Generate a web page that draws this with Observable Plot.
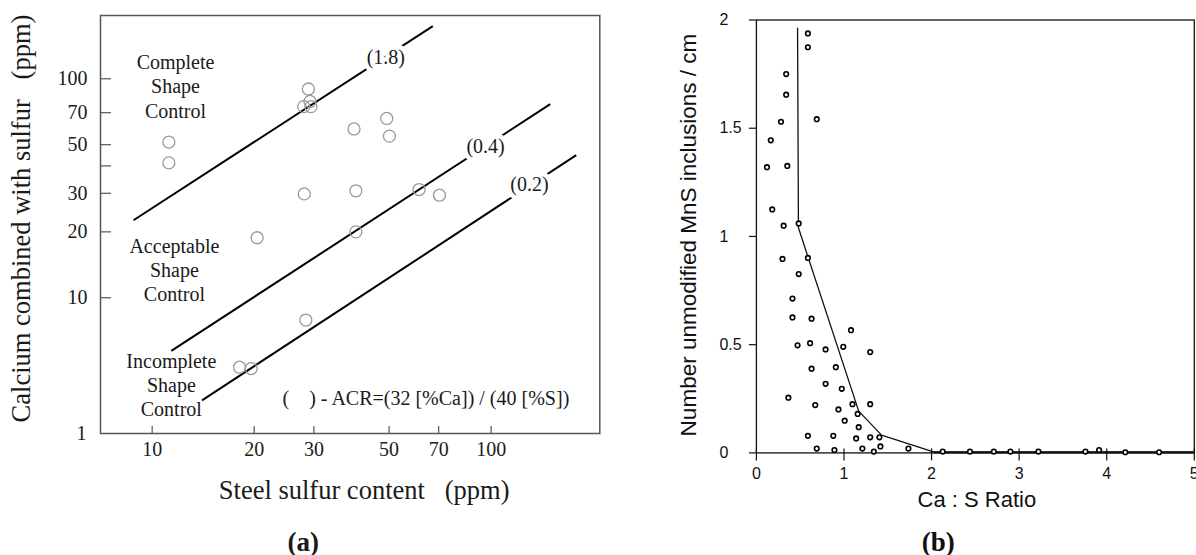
<!DOCTYPE html>
<html><head><meta charset="utf-8">
<script src="https://cdn.jsdelivr.net/npm/d3@7"></script>
<script src="https://cdn.jsdelivr.net/npm/@observablehq/plot@0.6"></script>
<style>
html,body{margin:0;padding:0;background:#fff;}
#wrap{display:flex;width:1196px;height:555px;overflow:hidden;}
#wrap svg{display:block;flex:none;}
</style></head><body><div id="wrap"></div>
<script>
// ---------- Panel (a) data ----------
const sulfurPpm  = [28.9, 29.2, 28.0, 29.4, 11.2, 11.2, 39.4, 49.2, 50.1, 28.1, 39.9, 61.3, 70.4, 20.4, 39.9, 28.4, 18.1, 19.6];
const calciumPpm = [89.8, 78.8, 74.6, 74.6, 51.4, 41.3, 59.0, 65.9, 54.7, 29.8, 30.8, 31.2, 29.4, 18.8, 20.0, 7.91, 4.82, 4.75];
const acrLabels = ["(1.8)", "(0.4)", "(0.2)"];
const lineS1  = [8.81, 11.39, 14.03];
const lineCa1 = [22.6, 5.72, 3.40];
const lineS2  = [67.3, 149.4, 178.3];
const lineCa2 = [174, 76.6, 44.8];
const labelS  = [48.9, 96.3, 129.7];
const labelCa = [125.6, 49.2, 32.9];
const xTicksA = [10, 20, 30, 50, 70, 100];
const xTickLabelsA = ["10", "20", "30", "50", "70", "100"];
const yTicksA = [10, 20, 30, 40, 50, 70, 100];
const yTickLabelsA = ["10", "20", "30", "", "50", "70", "100"];
const yBottomLabelA = "1";
const regionLabels = ["Complete\nShape\nControl", "Acceptable\nShape\nControl", "Incomplete\nShape\nControl"];
const regionS  = [11.72, 11.63, 11.39];
const regionCa = [93.1, 13.5, 4.03];
const legendText = "(\u00a0\u00a0\u00a0\u00a0) - ACR=(32 [%Ca]) / (40 [%S])";
const legendS = 64.2, legendCa = 3.46;
const xTitleA = "Steel sulfur content\u00a0\u00a0\u00a0(ppm)";
const yTitleA = "Calcium combined with sulfur\u00a0\u00a0\u00a0(ppm)";

// ---------- Panel (b) data ----------
const ratioB = [0.588,0.588,0.340,0.340,0.689,0.281,0.164,0.121,0.353,0.181,
  0.311,0.483,0.298,0.588,0.483,0.412,0.412,0.630,1.080,0.470,
  0.613,0.992,0.790,1.299,0.907,0.630,0.790,0.975,0.365,0.672,
  1.097,1.299,0.937,1.156,1.008,1.168,0.588,0.878,1.139,1.299,
  1.404,0.689,0.891,1.210,1.341,1.416,1.736,2.127,2.438,2.711,
  2.900,3.220,3.757,3.913,4.212,4.598];
const countB = [1.938,1.874,1.750,1.655,1.542,1.530,1.444,1.320,1.326,1.125,
  1.050,1.060,0.896,0.901,0.826,0.713,0.626,0.620,0.567,0.497,
  0.507,0.490,0.478,0.466,0.396,0.389,0.319,0.296,0.255,0.221,
  0.225,0.225,0.201,0.180,0.149,0.119,0.079,0.079,0.067,0.072,
  0.072,0.020,0.013,0.020,0.006,0.030,0.020,0.006,0.006,0.006,
  0.006,0.006,0.006,0.013,0.003,0.003];
const curveX = [0.470, 0.480, 1.168, 1.429, 2.03, 5.0];
const curveY = [1.962, 1.040, 0.193, 0.082, 0.004, 0.004];
const xTicksB = [0, 1, 2, 3, 4, 5];
const xTickLabelsB = ["0", "1", "2", "3", "4", "5"];
const yTicksB = [0, 0.5, 1, 1.5, 2];
const yTickLabelsB = ["0", "0.5", "1", "1.5", "2"];
const xTitleB = "Ca : S Ratio";
const yTitleB = "Number unmodified MnS inclusions / cm";

const serif = "'Liberation Serif', 'Times New Roman', serif";
const sans = "'Liberation Sans', Arial, sans-serif";

// ---------- Panel (a) ----------
const A = {w: 620, h: 555, ml: 100, mr: 20.7, mt: 15, mb: 122};
const fwA = A.w - A.ml - A.mr, fhA = A.h - A.mt - A.mb;
const pointsA = sulfurPpm.map((s, i) => ({s, ca: calciumPpm[i]}));
const mid = {textAnchor: "middle", lineAnchor: "middle"};

const plotA = Plot.plot({
  width: A.w, height: A.h,
  marginLeft: A.ml, marginRight: A.mr, marginTop: A.mt, marginBottom: A.mb,
  x: {type: "log", domain: [7.04, 209.2], axis: null},
  y: {type: "log", domain: [2.40, 194.5], axis: null},
  style: {fontFamily: serif, fontSize: "20px", color: "#1a1a1a", background: "white", overflow: "visible"},
  marks: [
    Plot.frame({stroke: "#555", strokeWidth: 1.5}),
    Plot.tickY(yTicksA, {y: d => d, stroke: "#555", strokeWidth: 1.2, insetRight: fwA - 11}),
    Plot.tickX(xTicksA, {x: d => d, stroke: "#555", strokeWidth: 1.2, insetTop: fhA - 7}),
    Plot.text(yTicksA, {y: d => d, text: (d, i) => yTickLabelsA[i], frameAnchor: "left", textAnchor: "end", lineAnchor: "middle", dx: -13, fontSize: 20}),
    Plot.text([yBottomLabelA], {frameAnchor: "bottom-left", textAnchor: "end", lineAnchor: "middle", dx: -14, fontSize: 20}),
    Plot.text(xTicksA, {x: d => d, text: (d, i) => xTickLabelsA[i], frameAnchor: "bottom", ...mid, dy: 16, fontSize: 20}),
    Plot.link(acrLabels, {x1: lineS1, y1: lineCa1, x2: lineS2, y2: lineCa2, stroke: "#000", strokeWidth: 2}),
    Plot.text(acrLabels, {x: labelS, y: labelCa, text: d => d, fontSize: 20, fill: "#1a1a1a", stroke: "white", strokeWidth: 9}),
    Plot.dot(pointsA, {x: "s", y: "ca", r: 6, stroke: "#9a9a9a", strokeWidth: 1.3, fill: "none"}),
    Plot.text(regionLabels, {x: regionS, y: regionCa, text: d => d, fontSize: 20, lineHeight: 1.22}),
    Plot.text([legendText], {x: [legendS], y: [legendCa], text: d => d, fontSize: 20}),
    Plot.text([yTitleA], {frameAnchor: "left", ...mid, rotate: -90, dx: -79, dy: -6, fontSize: 26.5}),
    Plot.text([xTitleA], {frameAnchor: "bottom", ...mid, dx: 14, dy: 57, fontSize: 26.5}),
    Plot.text(["(a)"], {frameAnchor: "bottom", ...mid, dx: -47, dy: 108.6, fontSize: 27, fontWeight: "bold"})
  ]
});

// ---------- Panel (b) ----------
const B = {w: 576, h: 555, ml: 135.9, mr: 2.2, mt: 19.5, mb: 102.6};
const fwB = B.w - B.ml - B.mr, fhB = B.h - B.mt - B.mb;
const pointsB = ratioB.map((r, i) => ({r, n: countB[i]}));
const curveB = curveX.map((x, i) => ({x, y: curveY[i]}));

const plotB = Plot.plot({
  width: B.w, height: B.h,
  marginLeft: B.ml, marginRight: B.mr, marginTop: B.mt, marginBottom: B.mb,
  x: {domain: [0, 5], axis: null},
  y: {domain: [0, 2], axis: null},
  style: {fontFamily: sans, fontSize: "16px", color: "#111", background: "white", overflow: "visible"},
  marks: [
    Plot.frame({stroke: "#111", strokeWidth: 1.3}),
    Plot.tickY(yTicksB, {y: d => d, stroke: "#111", strokeWidth: 1.2, insetLeft: -7, insetRight: fwB}),
    Plot.tickX(xTicksB, {x: d => d, stroke: "#111", strokeWidth: 1.2, insetTop: fhB - 4, insetBottom: -8}),
    Plot.text(yTicksB, {y: d => d, text: (d, i) => yTickLabelsB[i], frameAnchor: "left", textAnchor: "start", lineAnchor: "middle", dx: -37, fontSize: 16}),
    Plot.text(xTicksB, {x: d => d, text: (d, i) => xTickLabelsB[i], frameAnchor: "bottom", ...mid, dy: 20.5, fontSize: 16}),
    Plot.line(curveB, {x: "x", y: "y", stroke: "#111", strokeWidth: 1.3}),
    Plot.ruleY([0], {x1: 2.03, x2: 5, stroke: "#111", strokeWidth: 2.2, dy: -0.5}),
    Plot.dot(pointsB, {x: "r", y: "n", r: 2.3, stroke: "#000", strokeWidth: 1.6, fill: "white"}),
    Plot.text([yTitleB], {frameAnchor: "left", ...mid, rotate: -90, dx: -68, dy: -1.4, fontSize: 22.5}),
    Plot.text([xTitleB], {frameAnchor: "bottom", ...mid, dx: 1.5, dy: 46.6, fontSize: 22}),
    Plot.text(["(b)"], {frameAnchor: "bottom", ...mid, dx: -37, dy: 89.2, fontSize: 27, fontWeight: "bold", fontFamily: serif})
  ]
});

document.getElementById("wrap").append(plotA, plotB);
</script>
</body></html>
